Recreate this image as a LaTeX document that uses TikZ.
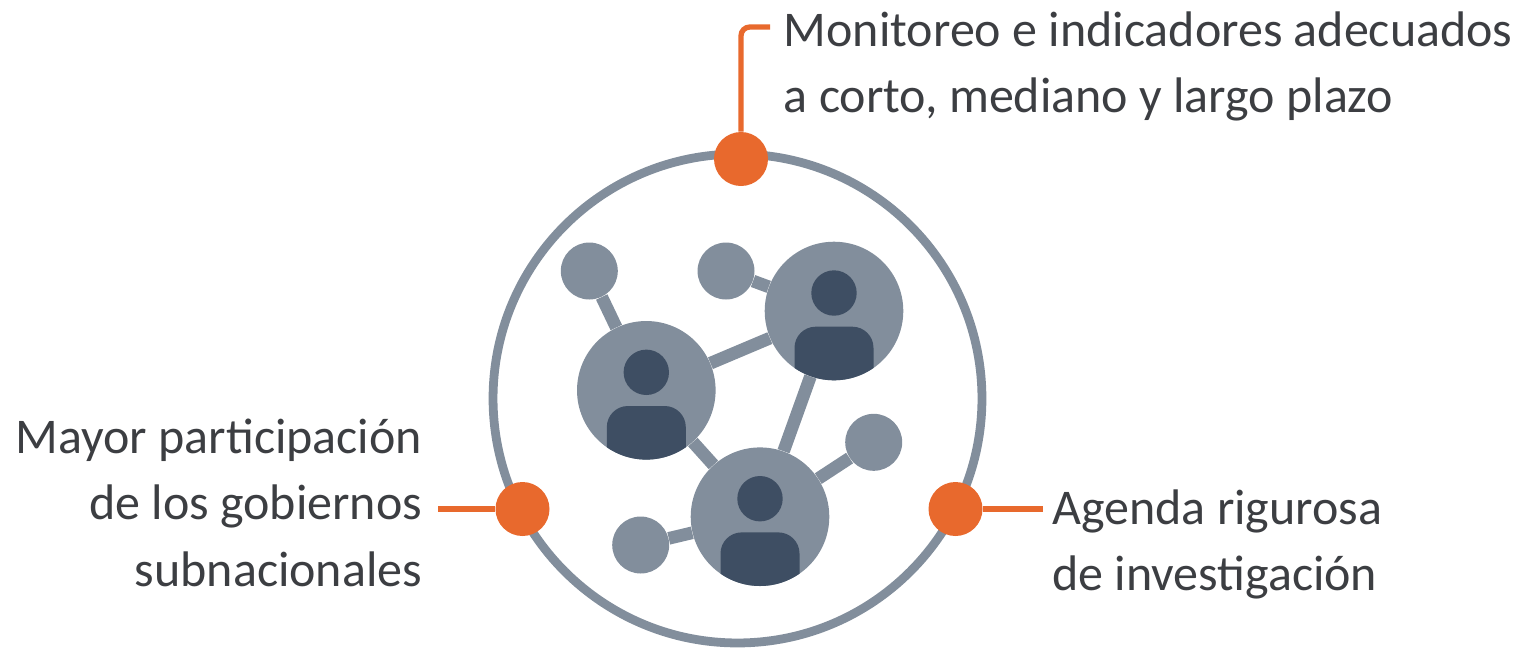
\documentclass[tikz,border=0pt]{standalone}
\usepackage{fontspec}
\setmainfont{Carlito}
\definecolor{netgray}{HTML}{828E9C}
\definecolor{netdark}{HTML}{3E4E63}
\definecolor{accent}{HTML}{E8692D}
\definecolor{labelink}{HTML}{3C3E42}
\tikzset{
  actor/.style={circle,fill=netgray,inner sep=0pt,minimum size=2.772cm},
  satellite/.style={circle,fill=netgray,inner sep=0pt,minimum size=1.14cm},
  head/.style={circle,fill=netdark,inner sep=0pt,minimum size=0.908cm},
  marker/.style={circle,fill=accent,inner sep=0pt,minimum size=1.08cm},
  link/.style={draw=netgray,line width=7.2pt},
  leader/.style={draw=accent,line width=3pt},
  caption/.style={inner sep=0pt,text=labelink,font=\fontsize{28.45}{37.6}\selectfont}
}
\newcommand{\personicon}[1]{
  \node[head] (#1head) at ([yshift=0.36cm]#1) {};
  \begin{scope}
    \clip (#1) circle (69.3);
    \fill[netdark,rounded corners=12pt] ([xshift=-0.79cm,yshift=-0.314cm]#1) rectangle ([xshift=0.79cm,yshift=-2cm]#1);
  \end{scope}
}
\begin{document}
\begin{tikzpicture}[x=0.02cm,y=-0.02cm]
  \useasboundingbox (0,0) rectangle (1521,647);
  \node[circle,draw=netgray,line width=5pt,inner sep=0pt,minimum size=9.78cm] (ring) at (737.5,398.5) {};
  \node[actor] (left) at (646.3,390.3) {};
  \node[actor] (right) at (834,311) {};
  \node[actor] (low) at (760,516.7) {};
  \node[satellite] (sat1) at (589.3,271) {};
  \node[satellite] (sat2) at (726,271) {};
  \node[satellite] (sat3) at (873.7,442.3) {};
  \node[satellite] (sat4) at (640.7,545) {};
  \draw[link] (sat1) -- (left);
  \draw[link] (sat2) -- (right);
  \draw[link] (sat3) -- (low);
  \draw[link] (sat4) -- (low);
  \draw[link] (left) -- (right);
  \draw[link] (left) -- (low);
  \draw[link] (right) -- (low);
  \personicon{left}
  \personicon{right}
  \personicon{low}

  \node[marker] (top) at (741,159) {};
  \node[marker] (west) at (522.5,509) {};
  \node[marker] (east) at (955.5,509) {};
  \coordinate (topend) at (770,27);
  \coordinate (westend) at (438,509);
  \coordinate (eastend) at (1043,509);
  \draw[leader,rounded corners=5pt] (top) |- (topend);
  \draw[leader] (west) -- (westend);
  \draw[leader] (east) -- (eastend);

  \node[caption,anchor=north west,align=left] (mon) at (783.5,11) {Monitoreo e indicadores adecuados\\a corto, mediano y largo plazo};
  \node[caption,anchor=north east,align=right] (may) at (422.5,419) {Mayor participación\\de los gobiernos\\subnacionales};
  \node[caption,anchor=north west,align=left] (age) at (1052,489.5) {Agenda rigurosa\\de investigación};
\end{tikzpicture}
\end{document}
